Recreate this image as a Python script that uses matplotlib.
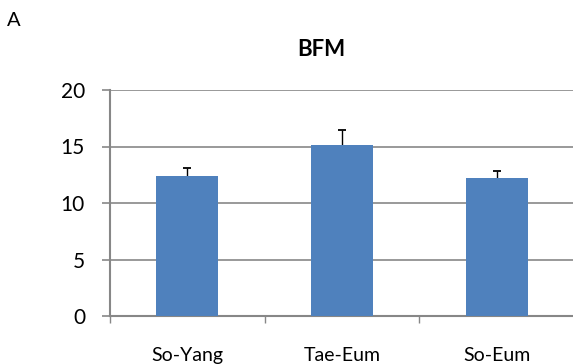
import matplotlib
matplotlib.use("Agg")
import matplotlib.pyplot as plt
import numpy as np

plt.rcParams['font.family'] = ['Lato', 'DejaVu Sans']

groups = ["So-Yang", "Tae-Eum", "So-Eum"]
bfm_mean = [12.35, 15.15, 12.25]
bfm_err = [0.75, 1.3, 0.6]
y_ticks = [0, 5, 10, 15, 20]

BAR_COLOR = "#4F81BD"
GRID_COLOR = "#878787"

fig = plt.figure(figsize=(5.73, 3.64), dpi=100)
# plot area runs off the right edge of the canvas
ax = fig.add_axes([110 / 573, 1 - 316 / 364, 464 / 573, 226 / 364])

x = np.arange(len(groups))
ax.bar(x, bfm_mean, width=0.4, color=BAR_COLOR, zorder=3)
# upper error only
_, caps, _ = ax.errorbar(x, bfm_mean, yerr=[np.zeros(len(bfm_err)), bfm_err],
                         fmt="none", ecolor="black", elinewidth=1.0,
                         capsize=3, capthick=1.3, zorder=2.5)
caps[0].set_visible(False)

ax.set_xlim(-0.5, len(groups) - 0.5)
ax.set_ylim(0, 20)
ax.set_yticks(y_ticks)
ax.yaxis.grid(True, color=GRID_COLOR, linewidth=1.2, zorder=0)
ax.set_axisbelow(True)

# category labels sit between the boundary ticks
ax.set_xticks(np.arange(len(groups) + 1) - 0.5)
ax.set_xticklabels([])
ax.set_xticks(x, minor=True)
ax.set_xticklabels(groups, minor=True, fontsize=14)
ax.tick_params(axis="x", which="minor", length=0, pad=22)
ax.tick_params(axis="x", which="major", length=5, color=GRID_COLOR, width=1)
ax.tick_params(axis="y", length=6, color=GRID_COLOR, width=1.2,
               labelsize=15, pad=12)

for side in ("top", "right"):
    ax.spines[side].set_visible(False)
for side in ("left", "bottom"):
    ax.spines[side].set_color(GRID_COLOR)
    ax.spines[side].set_linewidth(1.5)

fig.text(321 / 573, 1 - 49 / 364, "BFM", ha="center", va="center",
         fontsize=16, fontweight="bold")
fig.text(14 / 573, 1 - 20 / 364, "A", ha="center", va="center", fontsize=14.5)

fig.savefig("out.png", dpi=100)
